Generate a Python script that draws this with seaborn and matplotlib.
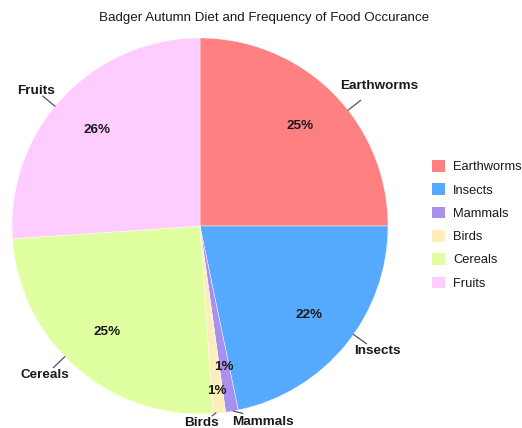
import numpy as np
import matplotlib
matplotlib.use("Agg")
import matplotlib.pyplot as plt
import seaborn as sns
from matplotlib.patches import Patch

categories = ["Earthworms", "Insects", "Mammals", "Birds", "Cereals", "Fruits"]
values = [23, 20, 1, 1, 23, 24]
colors = ["#ff8080", "#55aaff", "#aa90ee", "#ffeebb", "#e0ffa0", "#ffccff"]
title = "Badger Autumn Diet and Frequency of Food Occurance"

sns.set_theme(style="white")
plt.rcParams["font.family"] = ["Liberation Sans", "DejaVu Sans"]

FS = 9.7
fig = plt.figure(figsize=(5.22, 4.28), dpi=100)
ax = fig.add_axes([12 / 522, 14 / 428, 376 / 522, 376 / 428])

wedges, texts, autotexts = ax.pie(
    values, colors=colors, startangle=90, counterclock=False,
    autopct=lambda p: f"{p:.0f}%", pctdistance=0.75, radius=1.0,
    wedgeprops=dict(edgecolor="white", linewidth=0.3),
    textprops=dict(fontsize=FS, fontweight="bold", color="#1a1a1a"),
)
ax.set_xlim(-1, 1)
ax.set_ylim(-1, 1)
ax.set_aspect("equal")
ax.axis("off")

labels = []
for w, t, cat in zip(wedges, autotexts, categories):
    mid = np.deg2rad((w.theta1 + w.theta2) / 2)
    dx, dy = np.cos(mid), np.sin(mid)
    if cat == "Mammals":
        t.set_position((0.76 * dx, 0.76 * dy))
    if cat == "Birds":
        t.set_position((0.88 * dx, 0.88 * dy))
        ax.text(0.10, -1.05, cat, ha="right", va="center", fontsize=FS,
                fontweight="bold", color="#1a1a1a", clip_on=False)
        ax.plot([0.085, 0.064], [-0.994, -1.01], color="#555555", lw=0.9,
                clip_on=False)
    elif cat == "Mammals":
        ax.text(0.17, -1.043, cat, ha="left", va="center", fontsize=FS,
                fontweight="bold", color="#1a1a1a", clip_on=False)
        ax.plot([0.176, 0.229], [-0.984, -0.997], color="#555555", lw=0.9,
                clip_on=False)
    else:
        ha = "left" if dx > 0 else "right"
        txt = ax.text(1.055 * dx, 1.055 * dy, cat, ha=ha, va="center",
                      fontsize=FS, fontweight="bold", color="#1a1a1a",
                      clip_on=False)
        labels.append(txt)

fig.canvas.draw()
renderer = fig.canvas.get_renderer()
inv = ax.transData.inverted()
for txt in labels:
    bb = txt.get_window_extent(renderer)
    cx, cy = inv.transform(((bb.x0 + bb.x1) / 2, (bb.y0 + bb.y1) / 2))
    ang = np.arctan2(cy, cx)
    ux, uy = np.cos(ang), np.sin(ang)
    ax.plot([1.0 * ux, 1.085 * ux], [1.0 * uy, 1.085 * uy], color="#555555",
            lw=0.9, clip_on=False)

handles = [Patch(facecolor=c, edgecolor="none") for c in colors]
fig.legend(handles, categories, loc="upper left",
           bbox_to_anchor=(427 / 522, 1 - 155 / 428), frameon=False,
           fontsize=9.3, handlelength=1.0, handleheight=1.0,
           handletextpad=0.62, labelspacing=0.78, borderaxespad=0,
           labelcolor="#1a1a1a")

fig.text(0.505, 1 - 18 / 428, title, ha="center", va="center",
         fontsize=9.6, color="#1a1a1a")

fig.savefig("out.png", dpi=100)
